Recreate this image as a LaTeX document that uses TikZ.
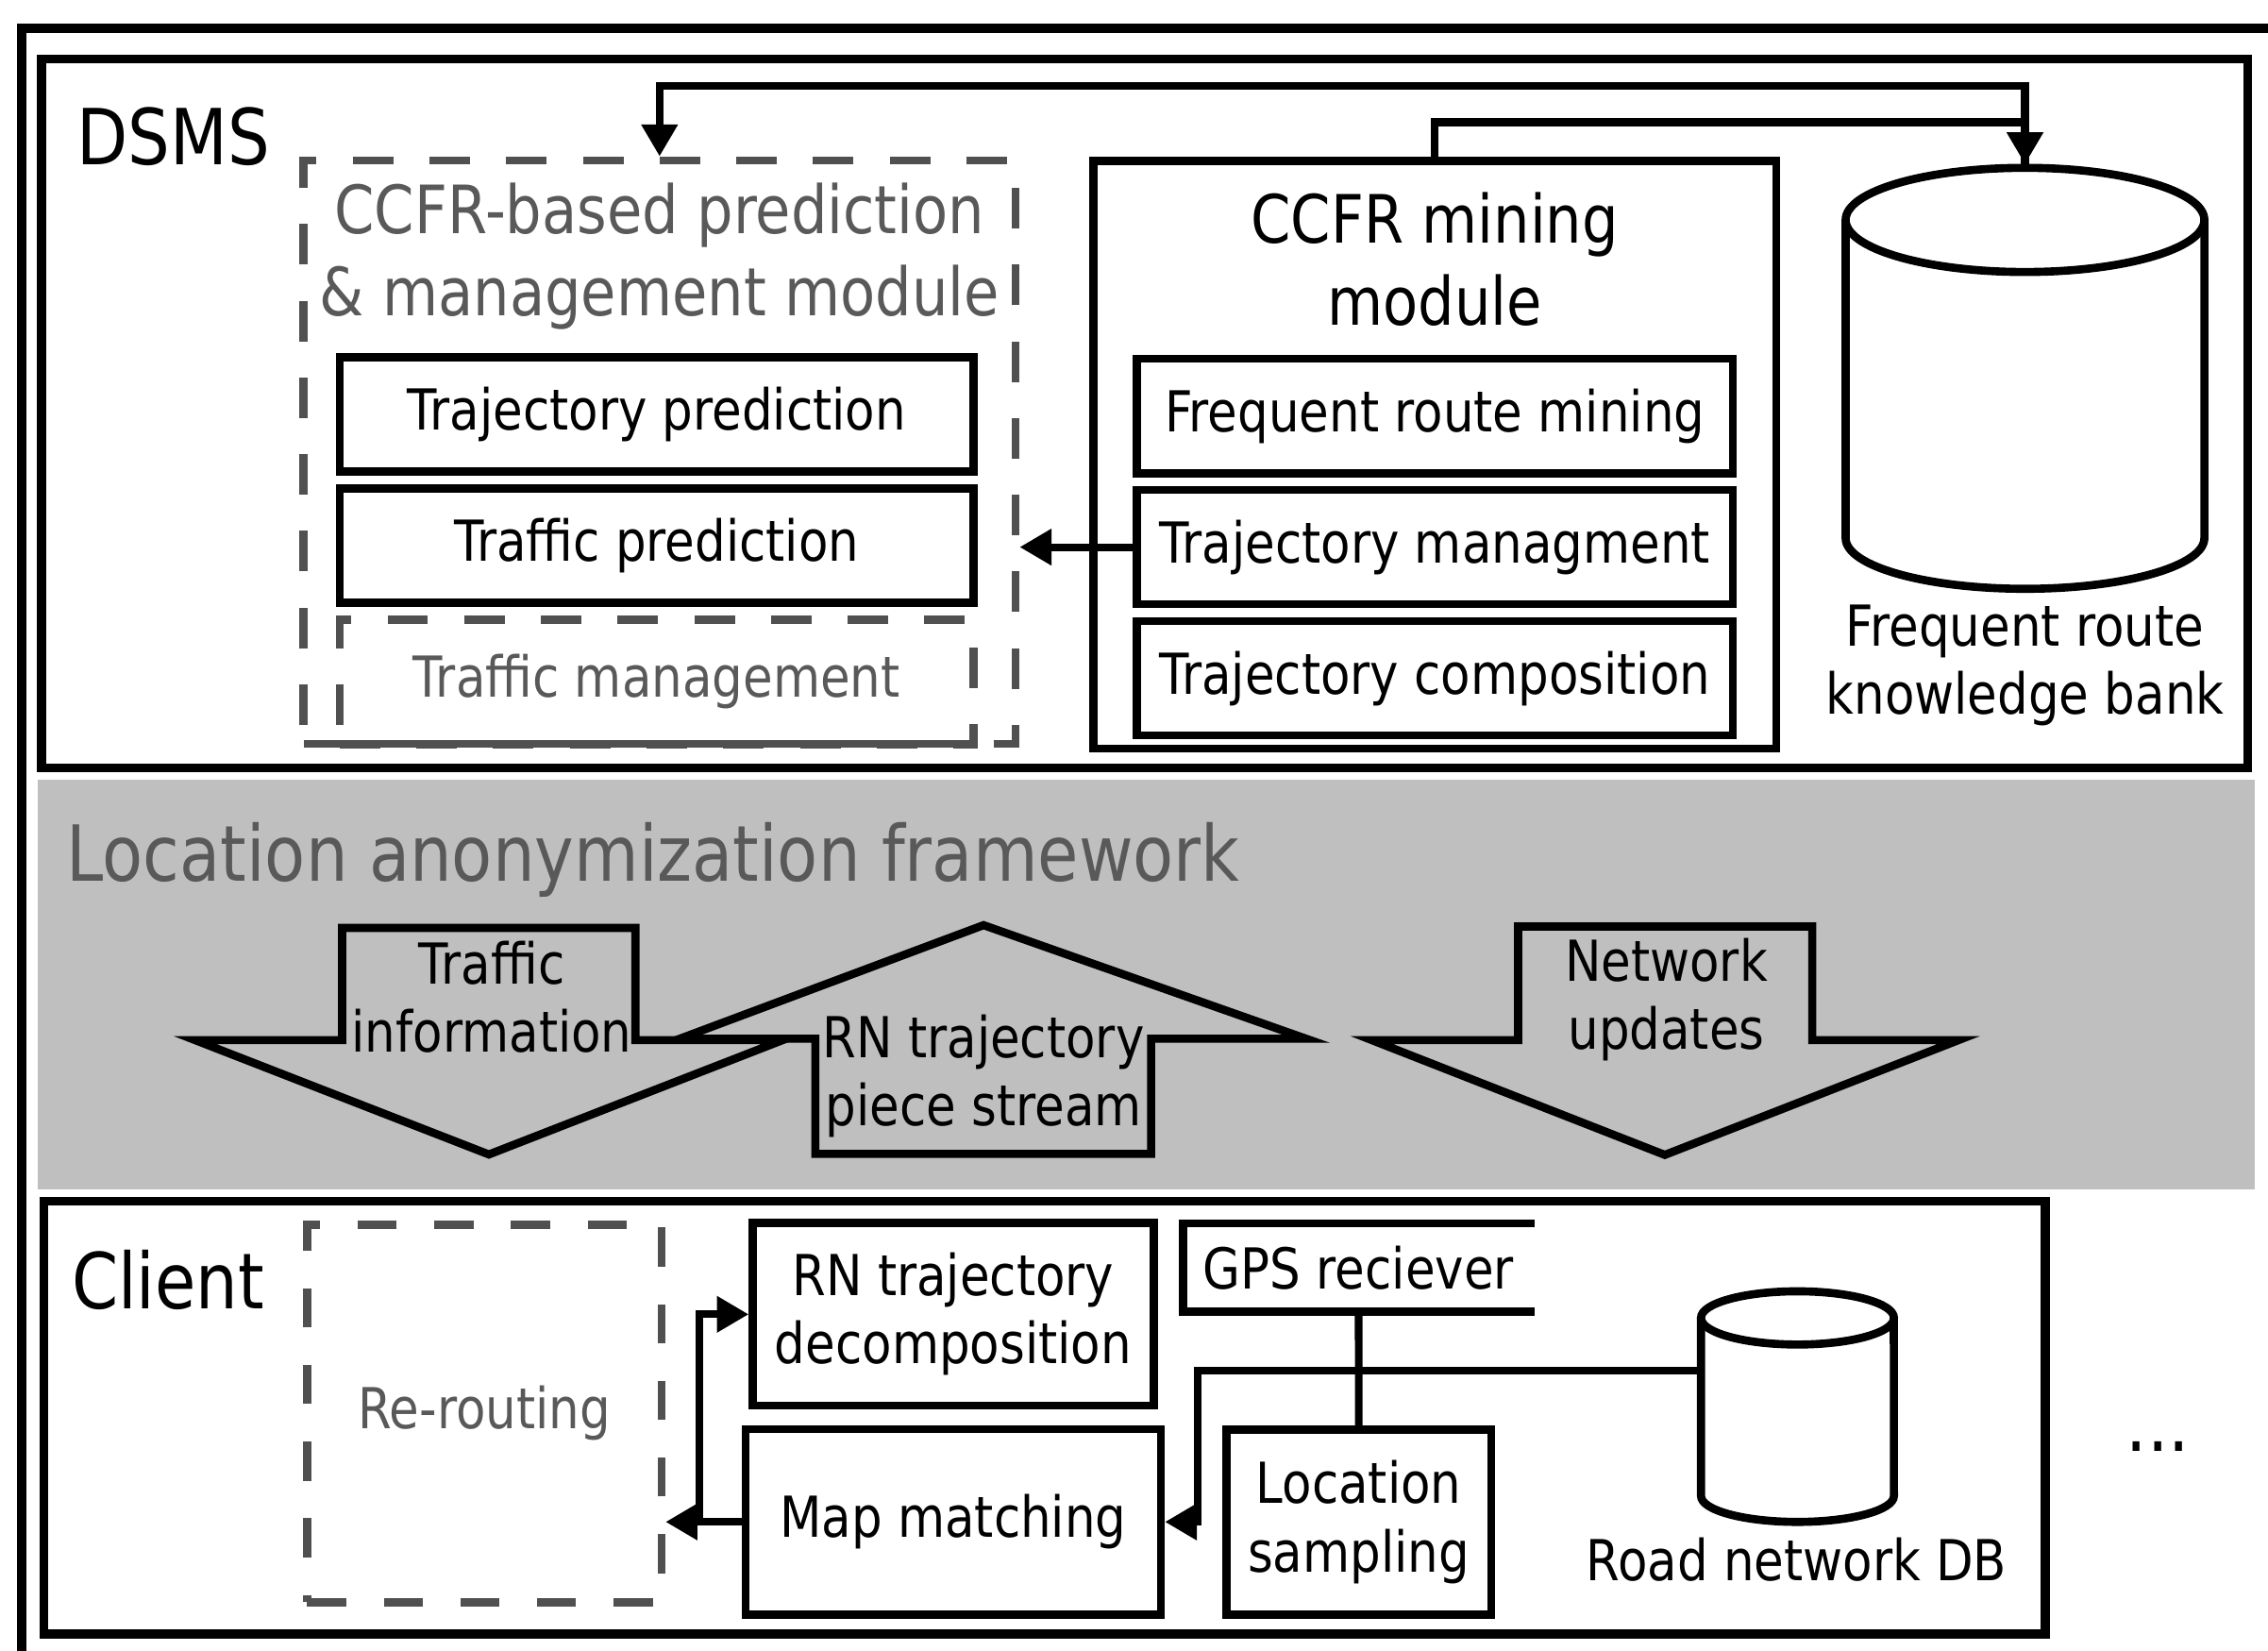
\documentclass[tikz,border=0pt]{standalone}
\usepackage{fontspec}
\setmainfont{DejaVu Sans}[FakeStretch=0.86]
\usetikzlibrary{arrows.meta}
\usetikzlibrary{positioning}

\definecolor{bandgray}{RGB}{191,191,191}
\definecolor{dashgray}{RGB}{80,80,80}
\definecolor{softtext}{RGB}{89,89,89}

\newcommand{\partfont}{\fontsize{11.1}{13.4}\selectfont}
\newcommand{\headfont}{\fontsize{13.1}{16.2}\selectfont}
\newcommand{\layerfont}{\fontsize{15.2}{17}\selectfont}

\tikzset {
  % frame of a whole layer
  layer frame/.style = {
    draw = black,
    line width = 1.7pt
  },
  % solid box
  part/.style = {
    draw = black,
    line width = 1.6pt,
    rectangle,
    align = center,
    font = \partfont
  },
  % planned box, dashed and grey
  soft part/.style = {
    part,
    draw = dashgray,
    dash pattern = on 0.28cm off 0.25cm,
    text = softtext
  },
  % module holding several parts
  module/.style = {
    part,
    font = \headfont
  },
  % big arrow of the middle layer
  flow/.style = {
    draw = black,
    fill = bandgray,
    line width = 1.6pt
  },
  % database outline
  store/.style = {
    draw = black,
    line width = 1.6pt
  },
  % plain text
  caption/.style = {
    inner sep = 0pt
  },
  % path with no arrows
  narr/.style = {
    draw = black,
    line width = 1.5pt
  },
  % path with an arrow at its end
  arr/.style = {
    narr,
    -{Triangle[length=0.22cm, width=0.24cm]}
  },
  node distance = 0.06cm
}

\begin{document}
\begin{tikzpicture}[x=0.01cm, y=-0.01cm]
    \useasboundingbox (0,0) rectangle (1568,1141);

    % layers
    \draw[layer frame, line width=1.85pt] (15,1160) -- (15,19.5) -- (1580,19.5);
    \draw[layer frame] (28.7,41) rectangle (1554,531);
    \fill[bandgray] (26,539) rectangle (1559,822);
    \draw[layer frame] (30.3,830.3) rectangle (1414,1129.5);

    \node[caption, font=\layerfont, anchor=base west] (dsms) at (52.6,114) {DSMS};
    \node[caption, font=\layerfont, anchor=base west, text=softtext] (laf) at (45.4,609) {Location anonymization framework};
    \node[caption, font=\layerfont, anchor=base west] (client) at (49,905) {Client};

    % DSMS
    \node[soft part, minimum width=4.92cm, minimum height=4.03cm] (predmod) at (456,312.5) {};
    \node[caption, font=\headfont, text=softtext, align=center] (predtitle) at (456,177) {CCFR-based prediction\\\& management module};
    \node[part, minimum width=4.38cm, minimum height=0.79cm] (trajpred) at (454,286.5) {Trajectory prediction};
    \node[part, minimum width=4.38cm, minimum height=0.79cm] (trafpred) [below=of trajpred] {Traffic prediction};
    \node[soft part, minimum width=4.38cm, minimum height=0.86cm] (trafman) [below=of trafpred] {Traffic management};

    \node[module, minimum width=4.72cm, minimum height=4.06cm] (mining) at (992,314.4) {};
    \node[caption, font=\headfont, align=center] (miningtitle) at (992,179) {CCFR mining\\module};
    \node[part, minimum width=4.12cm, minimum height=0.79cm] (frmining) at (992,287.5) {Frequent route mining};
    \node[part, minimum width=4.12cm, minimum height=0.79cm] (trajman) [below=of frmining] {Trajectory managment};
    \node[part, minimum width=4.12cm, minimum height=0.79cm] (trajcomp) [below=of trajman] {Trajectory composition};

    \draw[store] (1276,152) -- (1276,372) arc[start angle=180, end angle=0, x radius=124, y radius=35] -- (1524,152);
    \draw[store, fill=white] (1400,152) ellipse [x radius=124, y radius=36];
    \coordinate (bank) at (1400,113.5);
    \node[caption, font=\partfont, align=center] (banktext) at (1400,460) {Frequent route\\knowledge bank};

    \draw[arr] (mining.north) -- ++(0,-24) -| (bank);
    \draw[arr] (bank) -- ++(0,-54) -| (predmod.north);
    \draw[arr] (trajman.west) -- (predmod.east |- trajman.west);

    % anonymization
    \draw[flow] (236.5,641.4) -- (439.3,641.4) -- (439.3,719) -- (541,719)
      -- (338,798) -- (135,719) -- (236.5,719) -- cycle;
    \draw[flow] (680,639.5) -- (903,718) -- (795.8,718) -- (795.8,797.6)
      -- (563.7,797.6) -- (563.7,718) -- (470,718) -- cycle;
    \draw[flow] (1049.6,640.4) -- (1252.9,640.4) -- (1252.9,719) -- (1354,719)
      -- (1151,798.3) -- (948.5,719) -- (1049.6,719) -- cycle;
    \node[caption, font=\partfont, align=center] (trafinfo) at (340,689) {Traffic\\information};
    \node[caption, font=\partfont, align=center] (rnstream) at (680,744) {RN trajectory\\piece stream};
    \node[caption, font=\partfont, align=center] (netupd) at (1152,691) {Network\\updates};

    % client
    \node[soft part, minimum width=2.45cm, minimum height=2.61cm, dash pattern=on 0.27cm off 0.26cm] (reroute) at (334.8,977) {Re-routing};
    \node[part, minimum width=2.77cm, minimum height=1.26cm] (rnd) at (659,908.5) {RN trajectory\\decomposition};
    \node[part, minimum width=2.87cm, minimum height=1.28cm] (mapmatch) [below=0.108cm of rnd] {Map matching};
    \node[part, draw=none, outer sep=0pt, minimum width=2.43cm, minimum height=0.61cm] (gps) at (939.3,876.2) {GPS reciever};
    \draw[store] (gps.north east) -- (gps.north west) -- (gps.south west) -- (gps.south east);
    \node[part, minimum width=1.83cm, minimum height=1.28cm] (locsamp) at (939.4,1052.1) {Location\\sampling};

    \draw[store] (1176,911) -- (1176,1034) arc[start angle=180, end angle=0, x radius=66.7, y radius=18] -- (1309.3,911);
    \draw[store] (1242.7,911) ellipse [x radius=66.7, y radius=18.4];
    \coordinate (db) at (1176,947.5);
    \node[caption, font=\partfont] (dbtext) at (1242,1078) {Road network DB};

    \draw[narr] (gps.south) -- (locsamp.north);
    \draw[arr] (db) -- ++(-348,0) |- (mapmatch.east);
    \draw[arr] (mapmatch.west) -- (reroute.east |- mapmatch.west);
    \draw[arr] (mapmatch.west) -- ++(-29,0) |- (rnd.west);

    \node[caption, font=\layerfont] (more) at (1492,1000) {...};
\end{tikzpicture}
\end{document}
